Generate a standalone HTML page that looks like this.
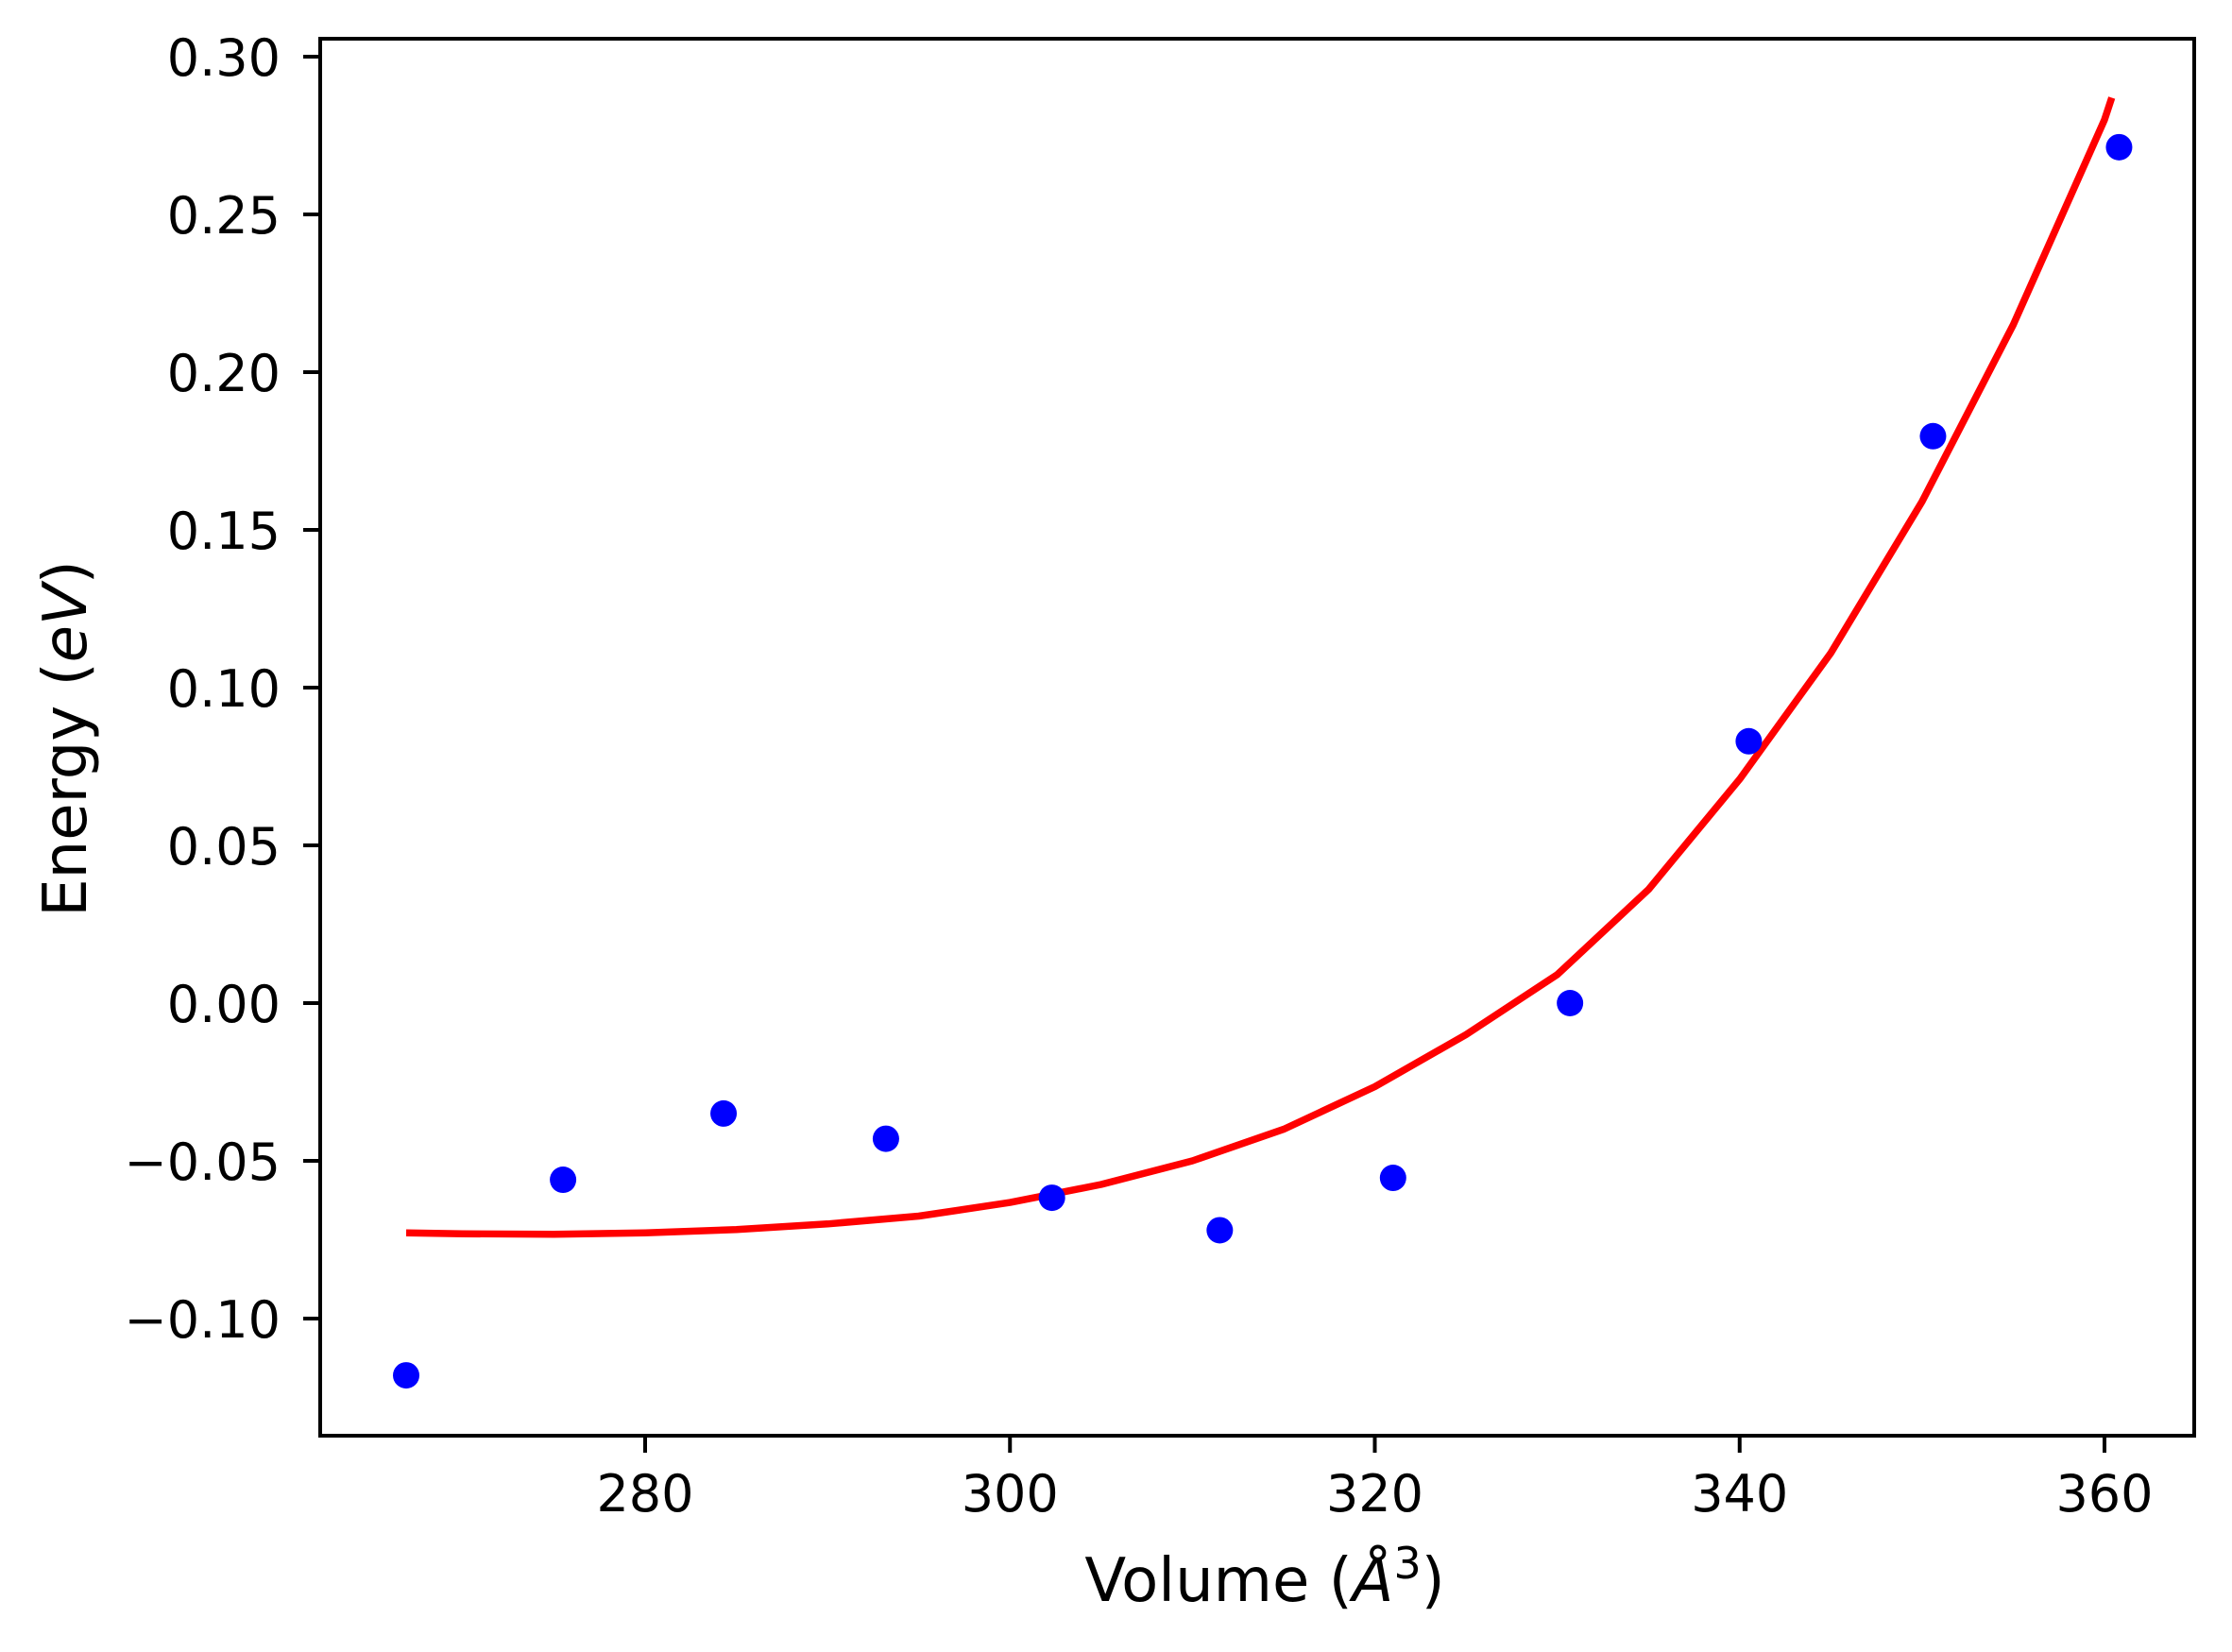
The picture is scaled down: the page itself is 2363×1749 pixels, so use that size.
<!DOCTYPE html>
<html><head><meta charset="utf-8"><style>
html,body{margin:0;padding:0;background:#fff;}
svg{display:block;font-family:"DejaVu Sans","Liberation Sans",sans-serif;}
</style></head><body>
<svg id="chart" width="2363" height="1749" viewBox="0 0 2363 1749" xmlns="http://www.w3.org/2000/svg">
<rect x="0" y="0" width="2363" height="1749" fill="#fff"/>
<g id="marks"></g>
<g id="axes"></g>
<text x="1339" y="1695" font-size="64" text-anchor="middle">Volume (<tspan font-style="italic">Å</tspan><tspan font-size="46" dy="-24">3</tspan><tspan dy="24">)</tspan></text>
<text transform="translate(91,782) rotate(-90)" font-size="64" text-anchor="middle">Energy (<tspan font-style="italic">eV</tspan>)</text>
</svg>
<script>
const volumes = [266.9, 275.5, 284.3, 293.2, 302.3, 311.5, 321.0, 330.7, 340.5, 350.6, 360.8];
const energies = [-0.118, -0.056, -0.035, -0.043, -0.0617, -0.072, -0.0554, 0.0, 0.083, 0.1797, 0.2713];
const fitVolumes = [266.9, 270, 275, 280, 285, 290, 295, 300, 305, 310, 315, 320, 325, 330, 335, 340, 345, 350, 355, 360, 360.4];
const fitEnergies = [-0.0728, -0.0731, -0.0733, -0.0728, -0.0718, -0.0700, -0.0675, -0.0632, -0.0575, -0.0500, -0.0400, -0.0265, -0.0100, 0.0090, 0.0360, 0.0710, 0.1110, 0.1590, 0.2150, 0.2800, 0.2870];
const xTicks = [280, 300, 320, 340, 360];
const yTicks = [-0.10, -0.05, 0.00, 0.05, 0.10, 0.15, 0.20, 0.25, 0.30];
const yTickLabels = ["\u22120.10", "\u22120.05", "0.00", "0.05", "0.10", "0.15", "0.20", "0.25", "0.30"];

const L = 339, R = 2323, T = 41, B = 1520;
function xs(v) { return 683 + (v - 280) * (2228 - 683) / 80; }
function ys(e) { return 1062 - e * 3340; }

const NS = "http://www.w3.org/2000/svg";
const marks = document.getElementById('marks');
const axes = document.getElementById('axes');

let d = "";
for (let i = 0; i < fitVolumes.length; i++) {
  d += (i ? "L" : "M") + xs(fitVolumes[i]).toFixed(1) + "," + ys(fitEnergies[i]).toFixed(1);
}
const path = document.createElementNS(NS, 'path');
path.setAttribute('d', d);
path.setAttribute('fill', 'none');
path.setAttribute('stroke', '#ff0000');
path.setAttribute('stroke-width', '7.5');
path.setAttribute('stroke-linejoin', 'round');


marks.appendChild(path);

for (let i = 0; i < volumes.length; i++) {
  const c = document.createElementNS(NS, 'circle');
  c.setAttribute('cx', xs(volumes[i]));
  c.setAttribute('cy', ys(energies[i]));
  c.setAttribute('r', '14');
  c.setAttribute('fill', '#0000ff');
  
  
  marks.appendChild(c);
}

const frame = document.createElementNS(NS, 'rect');
frame.setAttribute('x', L); frame.setAttribute('y', T);
frame.setAttribute('width', R - L); frame.setAttribute('height', B - T);
frame.setAttribute('fill', 'none'); frame.setAttribute('stroke', '#000'); frame.setAttribute('stroke-width', '4');


axes.appendChild(frame);

for (let i = 0; i < xTicks.length; i++) {
  const x = xs(xTicks[i]);
  const t = document.createElementNS(NS, 'line');
  t.setAttribute('x1', x); t.setAttribute('x2', x); t.setAttribute('y1', B); t.setAttribute('y2', B + 18);
  t.setAttribute('stroke', '#000'); t.setAttribute('stroke-width', '4');
  
  
  axes.appendChild(t);
  const lb = document.createElementNS(NS, 'text');
  lb.setAttribute('x', x); lb.setAttribute('y', 1600);
  lb.setAttribute('font-size', '54'); lb.setAttribute('text-anchor', 'middle');
  
  
  lb.textContent = String(xTicks[i]);
  axes.appendChild(lb);
}
for (let i = 0; i < yTicks.length; i++) {
  const y = ys(yTicks[i]);
  const t = document.createElementNS(NS, 'line');
  t.setAttribute('x1', L - 18); t.setAttribute('x2', L); t.setAttribute('y1', y); t.setAttribute('y2', y);
  t.setAttribute('stroke', '#000'); t.setAttribute('stroke-width', '4');
  
  
  axes.appendChild(t);
  const lb = document.createElementNS(NS, 'text');
  lb.setAttribute('x', 297); lb.setAttribute('y', y + 20);
  lb.setAttribute('font-size', '54'); lb.setAttribute('text-anchor', 'end');
  
  
  lb.textContent = yTickLabels[i];
  axes.appendChild(lb);
}
</script>
</body></html>
